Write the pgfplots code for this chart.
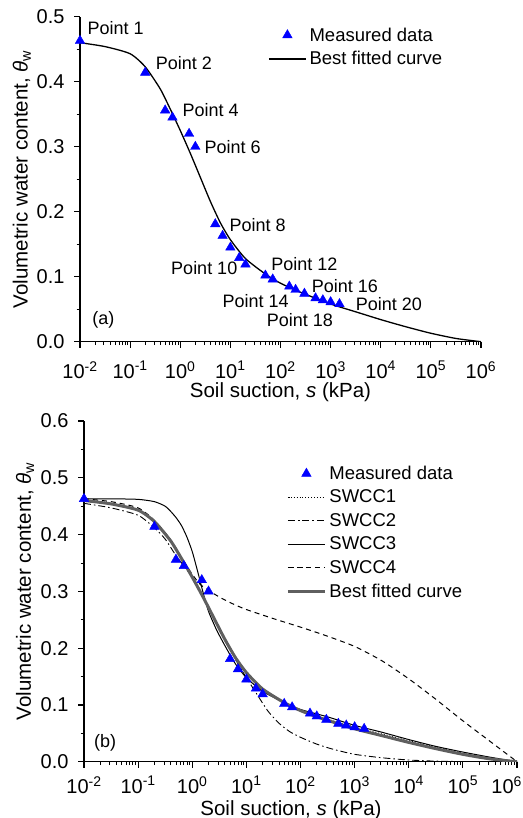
\documentclass[border=0pt]{standalone}
\usepackage{pgfplots}
\pgfplotsset{compat=1.18}
\usepackage{pgfplotstable}
\usepackage{fontspec}
\setmainfont{Liberation Sans}
\definecolor{mblue}{RGB}{0,0,255}
\definecolor{fitgray}{RGB}{95,95,95}
\newcommand\tf{\fontsize{20}{22}\selectfont}
\newcommand\lf{\fontsize{20.5}{24}\selectfont}
\newcommand\gf{\fontsize{18}{21}\selectfont}
\newcommand\ggf{\fontsize{18.5}{21}\selectfont}
\pgfplotsset{legend image code/.code={\draw[mark repeat=2,mark phase=2,#1] plot coordinates {(0pt,0pt) (18.5pt,0pt) (37pt,0pt)};}}

\pgfplotstableread{
x y
0.01 0.463
0.2 0.414
0.5 0.356
0.7 0.345
1.5 0.320
2.0 0.300
5 0.181
7 0.163
10 0.145
15 0.129
20 0.119
50 0.102
70 0.096
150 0.085
200 0.080
300 0.074
500 0.067
700 0.064
1000 0.061
1500 0.058
}\measured

\pgfplotstableread{
x y
0.01 0.460
0.03162 0.454
0.1 0.443
0.1995 0.423
0.3981 0.389
0.6310 0.358
1 0.325
1.585 0.290
2.512 0.253
3.981 0.216
6.310 0.183
10 0.157
19.95 0.128
50.12 0.104
100 0.090
251.2 0.076
1000 0.058
3162 0.046
10000 0.034
31623 0.023
100000 0.013
316228 0.005
1000000 0.000
}\bestfit

\pgfplotstableread{
x y
0.01 0.461
0.03162 0.455
0.1 0.444
0.1995 0.424
0.3981 0.390
0.6310 0.359
1 0.326
1.585 0.291
2.512 0.254
3.981 0.217
6.310 0.184
10 0.158
19.95 0.129
50.12 0.105
100 0.092
251.2 0.078
1000 0.061
3162 0.049
10000 0.037
31623 0.026
100000 0.015
316228 0.006
1000000 0.000
}\swccone

\pgfplotstableread{
x y
0.01 0.455
0.03162 0.447
0.1 0.434
0.1995 0.412
0.3162 0.392
0.5012 0.363
0.7943 0.338
1 0.325
1.585 0.290
2.512 0.253
3.981 0.216
6.310 0.180
10 0.148
15.85 0.118
25.12 0.089
39.81 0.068
63.10 0.053
100 0.043
199.5 0.031
398.1 0.022
1000 0.013
3162 0.007
10000 0.003
31623 0.001
100000 0.0003
1000000 0.0
}\swcctwo

\pgfplotstableread{
x y
0.01 0.463
0.03162 0.463
0.1 0.462
0.1995 0.458
0.3162 0.450
0.3981 0.441
0.5012 0.430
0.6310 0.416
0.7943 0.396
1 0.370
1.259 0.335
1.585 0.298
1.995 0.265
2.818 0.232
3.981 0.205
6.310 0.172
10 0.148
19.95 0.124
50.12 0.104
100 0.092
316.2 0.079
1000 0.064
3162 0.052
10000 0.039
31623 0.027
100000 0.017
316228 0.008
1000000 0.0
}\swccthree

\pgfplotstableread{
x y
0.01 0.463
0.03162 0.458
0.1 0.447
0.1995 0.425
0.3981 0.391
0.6310 0.360
1 0.330
1.413 0.312
1.995 0.302
3.162 0.290
5.623 0.278
10 0.268
31.62 0.252
100 0.237
316.2 0.221
1000 0.203
3162 0.178
10000 0.146
31623 0.110
100000 0.072
316228 0.036
1000000 0.0
}\swccfour

\begin{document}
\begin{tikzpicture}[font=\gf]
\useasboundingbox (0,0) rectangle (522pt,-818pt);

% ---------------- panel (a)
\begin{axis}[
  scale only axis,
  at={(80pt,-341.7pt)}, anchor=south west,
  width=401pt, height=325pt,
  xmode=log,
  xmin=0.01, xmax=1000000,
  ymin=0, ymax=0.5,
  axis x line*=bottom,
  axis y line*=left,
  tick align=outside,
  axis line style={line width=1.2pt},
  major tick style={line width=1.2pt, black},
  minor tick style={line width=0.9pt, black},
  major tick length=6pt,
  minor tick length=3.5pt,
  minor y tick num=1,
  xtick={0.01,0.1,1,10,100,1000,10000,100000,1000000},
  xticklabels={\tf 10\textsuperscript{-2},\tf 10\textsuperscript{-1},\tf 10\textsuperscript{0},\tf 10\textsuperscript{1},\tf 10\textsuperscript{2},\tf 10\textsuperscript{3},\tf 10\textsuperscript{4},\tf 10\textsuperscript{5},\tf 10\textsuperscript{6}},
  xticklabel style={yshift=-10pt},
  ytick={0,0.1,0.2,0.3,0.4,0.5},
  yticklabels={\tf 0.0,\tf 0.1,\tf 0.2,\tf 0.3,\tf 0.4,\tf 0.5},
  yticklabel style={xshift=-6pt},
  xlabel={\lf Soil suction, \textit{s} (kPa)},
  ylabel={\lf Volumetric water content, \textit{θ}\textsubscript{w}},
  xlabel style={at={(axis description cs:0.5,-0.155)}, anchor=center},
  ylabel style={at={(axis description cs:-0.145,0.5)}, anchor=center},
  legend cell align=left,
  legend style={draw=none, fill=none, inner sep=0pt, row sep=7pt,
    nodes={inner xsep=3pt, inner ysep=1pt},
    at={(axis description cs:0.469,0.970)}, anchor=north west},
]
\addplot[only marks, mark=triangle*, mark size=5.5pt, color=mblue] table {\measured};
\addlegendentry{\ggf Measured data}
\addplot[black, line width=1.3pt, smooth, tension=0.4] table {\bestfit};
\addlegendentry{\ggf Best fitted curve}
\node[anchor=west] at (axis cs:0.012,0.482) {Point 1};
\node[anchor=west] at (axis cs:0.277,0.429) {Point 2};
\node[anchor=west] at (axis cs:0.946,0.356) {Point 4};
\node[anchor=west] at (axis cs:2.60,0.300) {Point 6};
\node[anchor=west] at (axis cs:8.2,0.1796) {Point 8};
\node[anchor=west] at (axis cs:0.562,0.113) {Point 10};
\node[anchor=west] at (axis cs:55.8,0.119) {Point 12};
\node[anchor=west] at (axis cs:5.94,0.062) {Point 14};
\node[anchor=west] at (axis cs:360,0.086) {Point 16};
\node[anchor=west] at (axis cs:45.6,0.0334) {Point 18};
\node[anchor=west] at (axis cs:2720,0.0577) {Point 20};
\node[anchor=west] at (axis cs:0.0150,0.0344) {(a)};
\end{axis}

% ---------------- panel (b)
\begin{axis}[
  scale only axis,
  at={(84pt,-761.7pt)}, anchor=south west,
  width=433pt, height=340.7pt,
  xmode=log,
  xmin=0.01, xmax=1000000,
  ymin=0, ymax=0.6,
  axis x line*=bottom,
  axis y line*=left,
  tick align=outside,
  axis line style={line width=1.2pt},
  major tick style={line width=1.2pt, black},
  minor tick style={line width=0.9pt, black},
  major tick length=6pt,
  minor tick length=3.5pt,
  minor y tick num=1,
  xtick={0.01,0.1,1,10,100,1000,10000,100000,1000000},
  xticklabels={\tf 10\textsuperscript{-2},\tf 10\textsuperscript{-1},\tf 10\textsuperscript{0},\tf 10\textsuperscript{1},\tf 10\textsuperscript{2},\tf 10\textsuperscript{3},\tf 10\textsuperscript{4},\tf 10\textsuperscript{5},\makebox[10pt][r]{\tf 10\textsuperscript{6}}},
  xticklabel style={yshift=-5pt},
  ytick={0,0.1,0.2,0.3,0.4,0.5,0.6},
  yticklabels={\tf 0.0,\tf 0.1,\tf 0.2,\tf 0.3,\tf 0.4,\tf 0.5,\tf 0.6},
  yticklabel style={xshift=-6pt},
  xlabel={\lf Soil suction, \textit{s} (kPa)},
  ylabel={\lf Volumetric water content, \textit{θ}\textsubscript{w}},
  xlabel style={at={(axis description cs:0.478,-0.141)}, anchor=center},
  ylabel style={at={(axis description cs:-0.136,0.5)}, anchor=center},
  legend cell align=left,
  legend style={draw=none, fill=none, inner sep=0pt, row sep=7pt,
    nodes={inner xsep=3pt, inner ysep=1pt},
    at={(axis description cs:0.467,0.871)}, anchor=north west},
]
\addplot[only marks, mark=triangle*, mark size=5.5pt, color=mblue] table {\measured};
\addlegendentry{\ggf Measured data}
\addplot[black, line width=0.9pt, dotted, smooth, tension=0.4] table {\swccone};
\addlegendentry{\ggf SWCC1}
\addplot[black, line width=0.9pt, dash pattern=on 7pt off 3pt on 1.5pt off 3pt, smooth, tension=0.4] table {\swcctwo};
\addlegendentry{\ggf SWCC2}
\addplot[black, line width=1pt, smooth, tension=0.4] table {\swccthree};
\addlegendentry{\ggf SWCC3}
\addplot[black, line width=1pt, dash pattern=on 5pt off 4pt, smooth, tension=0.4] table {\swccfour};
\addlegendentry{\ggf SWCC4}
\addplot[fitgray, line width=3pt, smooth, tension=0.4] table {\bestfit};
\addlegendentry{\ggf Best fitted curve}
\node[anchor=west] at (axis cs:0.0133,0.034) {(b)};
\end{axis}
\end{tikzpicture}
\end{document}
